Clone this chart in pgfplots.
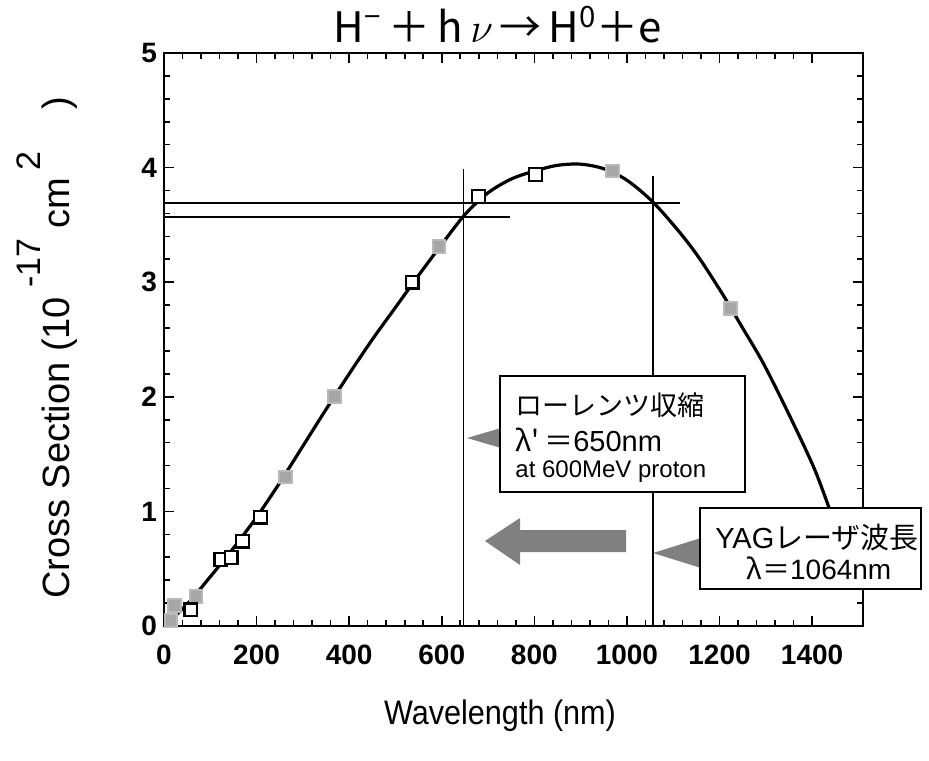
\documentclass[border=0pt]{standalone}
\usepackage{fontspec}
\usepackage{graphicx}
\usepackage{pgfplots}
\pgfplotsset{compat=1.18}
\setmainfont{Liberation Sans}
\newfontfamily\jp{Noto Sans CJK JP}
\definecolor{arrowgray}{gray}{0.5}
\begin{document}
\begin{tikzpicture}
\useasboundingbox (0,0) rectangle (464.5pt,380pt);
\begin{axis}[
  at={(82pt,67pt)}, anchor=south west,
  scale only axis, width=349.5pt, height=286.5pt,
  xmin=0, xmax=1510, ymin=0, ymax=5,
  xtick={0,200,...,1400}, ytick={0,1,...,5},
  minor x tick num=4, minor y tick num=4,
  major tick length=5pt, minor tick length=3pt,
  tick style={black, line width=0.8pt},
  axis line style={line width=1.1pt},
  ticklabel style={font=\fontsize{14}{15}\selectfont\bfseries},
  /pgf/number format/assume math mode=true,
  /pgf/number format/1000 sep={},
  xticklabel style={yshift=-6pt},
  clip=false,
]
\draw[line width=0.7pt] (axis cs:0,3.69) -- (axis cs:1115,3.69);
\draw[line width=0.7pt] (axis cs:0,3.57) -- (axis cs:748,3.57);
\draw[line width=0.7pt] (axis cs:647,0) -- (axis cs:647,3.99);
\draw[line width=0.7pt] (axis cs:1056,0) -- (axis cs:1056,3.93);
\addplot[smooth, line width=1.6pt, black] coordinates {
(0,0) (50,0.19) (100,0.43) (150,0.68) (200,0.95) (250,1.25) (300,1.57)
(350,1.89) (400,2.20) (450,2.50) (500,2.78) (550,3.06) (600,3.33)
(650,3.59) (700,3.78) (750,3.90) (800,3.97) (850,4.02) (900,4.03)
(950,3.99) (1000,3.89) (1056,3.70) (1115,3.43) (1158,3.20) (1209,2.88)
(1250,2.60) (1295,2.29) (1352,1.83) (1403,1.39) (1435,1.05) (1470,0.65) (1490,0.42)
};
\addplot[only marks, mark=square*, mark size=3.2pt,
  mark options={fill=gray!70, draw=gray!55, line width=1pt}] coordinates {
(15,0.05) (22,0.18) (69,0.26) (263,1.30) (368,2.0) (594,3.31) (968,3.97) (1223,2.77)
};
\addplot[only marks, mark=square*, mark size=3.2pt,
  mark options={fill=white, draw=black, line width=1.1pt}] coordinates {
(58,0.14) (123,0.58) (145,0.60) (170,0.74) (209,0.95) (536,3.0) (680,3.75) (802,3.94)
};
\end{axis}
\begin{scope}[shift={(0pt,380pt)}, x=0.5pt, y=-0.5pt]
  % box 1
  \fill[arrowgray] (467,438) -- (501,428) -- (501,448) -- cycle;
  \draw[fill=white, line width=0.75pt] (500,376) rectangle (745,492);
  \node[anchor=west, inner sep=0pt] at (515,405) {\jp\fontsize{13.5}{14}\selectfont ローレンツ収縮};
  \node[anchor=west, inner sep=0pt] at (515,440) {\fontsize{14.5}{15}\selectfont{\jp λ'\,＝}650nm};
  \node[anchor=west, inner sep=0pt] at (515,472) {\fontsize{12}{13}\selectfont at 600MeV proton};
  % big arrow
  \fill[arrowgray] (485,541) -- (520,518) -- (520,530) -- (626,530) -- (626,552) -- (520,552) -- (520,565) -- cycle;
  % YAG box
  \fill[arrowgray] (653,553) -- (701,538) -- (701,568) -- cycle;
  \draw[fill=white, line width=0.75pt] (700,508) rectangle (921,589);
  \node[inner sep=0pt] at (817,538) {\fontsize{14.5}{15}\selectfont YAG{\jp レーザ波長}};
  \node[inner sep=0pt] at (819,568) {\fontsize{14}{15}\selectfont{\jp λ＝}1064nm};
  % title
  \node[inner sep=0pt] at (498,25) {\jp\fontsize{21}{22}\selectfont H\textsuperscript{−}\,＋\,h\,$\nu$\,→\,H\textsuperscript{0}＋e};
  % x label
  \node[inner sep=0pt] at (500,716) {\fontsize{17}{18}\selectfont\scalebox{0.9}[1]{Wavelength (nm)}};
  % y label
  \node[inner sep=0pt, rotate=90, anchor=base] at (69,348) {\fontsize{19}{20}\selectfont Cross Section (10\hspace{0.25em}\raisebox{0.75em}{\fontsize{17}{18}\selectfont -17}\hspace{0.25em}cm\hspace{0.2em}\raisebox{0.75em}{\fontsize{17}{18}\selectfont 2}\hspace{1.1em})};
\end{scope}
\end{tikzpicture}
\end{document}
